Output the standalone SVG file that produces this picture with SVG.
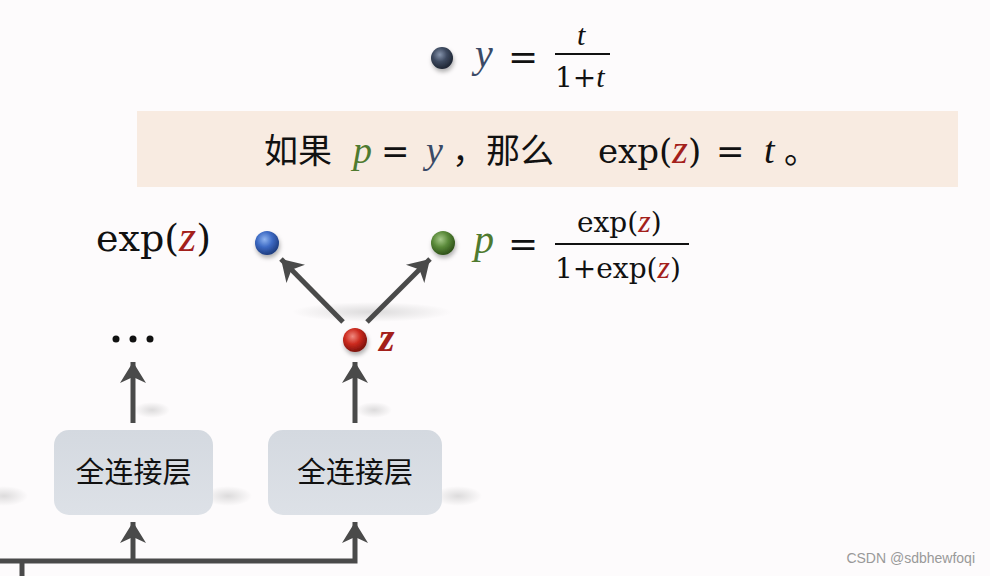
<svg xmlns="http://www.w3.org/2000/svg" width="990" height="576" viewBox="0 0 990 576">
<style>
.m{font-family:"DejaVu Serif","Noto Sans CJK SC",serif;fill:#111}
.i{font-style:italic;font-family:"Liberation Serif","DejaVu Serif",serif}
.cn{font-family:"Noto Sans CJK SC",sans-serif;fill:#111}
.conn{stroke:#4a4a4a;stroke-width:5;fill:none}
.box{fill:url(#boxg)}
.zr{fill:#a3201b}
.pg{fill:#4f7a2f}
.yb{fill:#3b4a66}
.sh{fill:url(#shg)}
</style>
<defs>
<radialGradient id="gDark" cx="40%" cy="35%" r="65%"><stop offset="0" stop-color="#8795ad"/><stop offset="0.5" stop-color="#3e4a60"/><stop offset="1" stop-color="#1f2634"/></radialGradient>
<radialGradient id="gBlue" cx="40%" cy="35%" r="65%"><stop offset="0" stop-color="#8fb4f0"/><stop offset="0.5" stop-color="#3d6ac4"/><stop offset="1" stop-color="#1f3d80"/></radialGradient>
<radialGradient id="gGreen" cx="40%" cy="35%" r="65%"><stop offset="0" stop-color="#a6c98a"/><stop offset="0.5" stop-color="#5a8a3a"/><stop offset="1" stop-color="#2f5219"/></radialGradient>
<radialGradient id="gRed" cx="40%" cy="35%" r="65%"><stop offset="0" stop-color="#f08a80"/><stop offset="0.5" stop-color="#cc2a1e"/><stop offset="1" stop-color="#7d120c"/></radialGradient>
<radialGradient id="shg"><stop offset="0" stop-color="#a0a0a0" stop-opacity="0.35"/><stop offset="1" stop-color="#a0a0a0" stop-opacity="0"/></radialGradient>
<linearGradient id="boxg" x1="0" y1="0" x2="0" y2="1"><stop offset="0" stop-color="#d4d9e0"/><stop offset="1" stop-color="#dde1e7"/></linearGradient>
<filter id="bs" x="-50%" y="-50%" width="200%" height="200%"><feDropShadow dx="1" dy="3" stdDeviation="2" flood-color="#000" flood-opacity="0.3"/></filter>
<marker id="ah" viewBox="-22 -14 24 28" refX="0" refY="0" markerWidth="24" markerHeight="28" markerUnits="userSpaceOnUse" orient="auto">
<path d="M0,0 L-21,-13 L-15,0 L-21,13 Z" fill="#4a4a4a"/>
</marker>
</defs>
<rect width="990" height="576" fill="#fdfbfc"/>

<!-- soft shadows -->
<g id="shadows">
<ellipse class="sh" cx="372" cy="312" rx="80" ry="10"/>
<ellipse class="sh" cx="152" cy="410" rx="18" ry="8"/>
<ellipse class="sh" cx="374" cy="410" rx="18" ry="8"/>
<ellipse class="sh" cx="228" cy="496" rx="24" ry="10"/>
<ellipse class="sh" cx="458" cy="496" rx="24" ry="10"/>
<ellipse class="sh" cx="4" cy="496" rx="24" ry="10"/>
</g>

<!-- top equation -->
<g id="y-eq">
<circle cx="442" cy="58" r="11" fill="url(#gDark)" filter="url(#bs)"/>
<text class="i yb" x="475" y="67" font-size="40">y</text>
<text class="m" x="508" y="69" font-size="36">=</text>
<text class="i" x="577" y="45" font-size="30" fill="#111">t</text>
<line x1="555" y1="54" x2="610" y2="54" stroke="#111" stroke-width="2"/>
<text class="m" x="555" y="87" font-size="28">1+<tspan class="i" font-size="30">t</tspan></text>
</g>

<!-- beige band -->
<g id="band">
<rect x="137" y="111" width="821" height="76" fill="#f8ebe1"/>
<text class="m" y="163" font-size="34"><tspan x="264" class="cn" font-size="34">如果</tspan><tspan x="353" class="i pg" font-size="38">p</tspan><tspan x="381">=</tspan><tspan x="426" class="i yb" font-size="38">y</tspan><tspan x="452" class="cn" font-size="34">，那么</tspan><tspan x="598">exp(</tspan><tspan class="i zr" font-size="40">z</tspan><tspan>)</tspan><tspan x="716">=</tspan><tspan x="764" class="i" font-size="38">t</tspan><tspan x="784" class="cn" font-size="34">。</tspan></text>
</g>

<!-- exp(z) label -->
<g id="exp-label">
<text class="m" x="96" y="251" font-size="38">exp(<tspan class="i zr" font-size="44">z</tspan>)</text>
</g>

<g id="blue-node"><circle cx="267" cy="243" r="12" fill="url(#gBlue)" filter="url(#bs)"/></g>

<g id="green-node">
<circle cx="443" cy="243" r="12" fill="url(#gGreen)" filter="url(#bs)"/>
<text class="i pg" x="474" y="253" font-size="40">p</text>
<text class="m" x="508" y="256" font-size="36">=</text>
<text class="m" x="577" y="232" font-size="28">exp(<tspan class="i zr" font-size="32">z</tspan>)</text>
<line x1="555" y1="244" x2="689" y2="244" stroke="#111" stroke-width="2"/>
<text class="m" x="555" y="278" font-size="28">1+exp(<tspan class="i zr" font-size="32">z</tspan>)</text>
</g>

<g id="red-node">
<circle cx="355" cy="340" r="12" fill="url(#gRed)" filter="url(#bs)"/>
<text class="i zr" x="379" y="351" font-size="40" font-weight="bold">z</text>
</g>

<g id="dots">
<circle cx="116" cy="339" r="3.5" fill="#111"/>
<circle cx="133" cy="339" r="3.5" fill="#111"/>
<circle cx="150" cy="339" r="3.5" fill="#111"/>
</g>

<g id="fc-left">
<rect class="box" x="54" y="430" width="159" height="85" rx="15"/>
<text class="cn" x="133.5" y="483" font-size="29" text-anchor="middle">全连接层</text>
</g>
<g id="fc-right">
<rect class="box" x="268" y="430" width="174" height="85" rx="15"/>
<text class="cn" x="355" y="483" font-size="29" text-anchor="middle">全连接层</text>
</g>

<g id="connectors">
<line class="conn" x1="343" y1="322" x2="281" y2="259" marker-end="url(#ah)"/>
<line class="conn" x1="367" y1="322" x2="430" y2="259" marker-end="url(#ah)"/>
<line class="conn" x1="133" y1="423" x2="133" y2="362" marker-end="url(#ah)"/>
<line class="conn" x1="355" y1="423" x2="355" y2="362" marker-end="url(#ah)"/>
<polyline class="conn" points="0,561 355,561 355,522" marker-end="url(#ah)"/>
<line class="conn" x1="133" y1="561" x2="133" y2="522" marker-end="url(#ah)"/>
<line class="conn" x1="22" y1="561" x2="22" y2="576"/>
</g>

<text x="975" y="563" font-family="Liberation Sans, sans-serif" font-size="14" fill="#999" text-anchor="end">CSDN @sdbhewfoqi</text>
</svg>
